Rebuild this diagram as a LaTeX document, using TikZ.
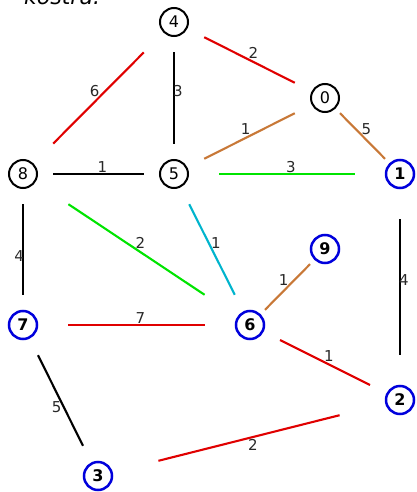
\documentclass[tikz,border=0pt]{standalone}
\usepackage{fontspec}
\setmainfont{DejaVu Sans}
\usetikzlibrary{calc}
\definecolor{kred}{RGB}{224,0,0}
\definecolor{kgreen}{RGB}{0,228,0}
\definecolor{kbrown}{RGB}{200,120,55}
\definecolor{kcyan}{RGB}{0,180,205}
\definecolor{kblue}{RGB}{0,0,220}
\definecolor{klabel}{RGB}{40,40,40}
\newcommand\kedge[5]{\draw[edge,#3] ($(#1)!0.2!(#2)$) -- node[wt,anchor=#4]{#5} ($(#1)!0.8!(#2)$);}
\begin{document}
\begin{tikzpicture}[x=1pt,y=-1pt,
  vtx/.style={circle,draw=black,line width=2pt,minimum size=28pt,inner sep=0pt,font=\fontsize{16}{19}\selectfont},
  vblue/.style={vtx,draw=kblue,line width=2.5pt,font=\fontsize{16}{19}\selectfont\bfseries},
  edge/.style={line width=2.1pt},
  wt/.style={inner sep=0pt,outer xsep=-1pt,font=\fontsize{15}{18}\selectfont,text=klabel}
]
\useasboundingbox (0,0) rectangle (416,492);
\node[anchor=base west,inner sep=0pt,font=\fontsize{22}{26}\selectfont\itshape] (title) at (24,5) {kostra.};
\node[vtx]   (n4) at (174,22)  {4};
\node[vtx]   (n0) at (325,98)  {0};
\node[vtx]   (n8) at (23,174)  {8};
\node[vtx]   (n5) at (174,174) {5};
\node[vblue] (n1) at (400,174) {1};
\node[vblue] (n9) at (325,249) {9};
\node[vblue] (n7) at (23,325)  {7};
\node[vblue] (n6) at (250,325) {6};
\node[vblue] (n2) at (400,400) {2};
\node[vblue] (n3) at (98,476)  {3};
\kedge{n4}{n0}{kred}{south west}{2}
\kedge{n4}{n8}{kred}{south east}{6}
\kedge{n4}{n5}{black}{south west}{3}
\kedge{n5}{n0}{kbrown}{south east}{1}
\kedge{n0}{n1}{kbrown}{south west}{5}
\kedge{n8}{n5}{black}{south west}{1}
\kedge{n5}{n1}{kgreen}{south west}{3}
\kedge{n8}{n7}{black}{north east}{4}
\kedge{n8}{n6}{kgreen}{south west}{2}
\kedge{n5}{n6}{kcyan}{south west}{1}
\kedge{n9}{n6}{kbrown}{south east}{1}
\kedge{n1}{n2}{black}{south west}{4}
\kedge{n7}{n6}{kred}{south west}{7}
\kedge{n6}{n2}{kred}{south west}{1}
\kedge{n7}{n3}{black}{north east}{5}
\kedge{n3}{n2}{kred}{north west}{2}
\end{tikzpicture}
\end{document}
